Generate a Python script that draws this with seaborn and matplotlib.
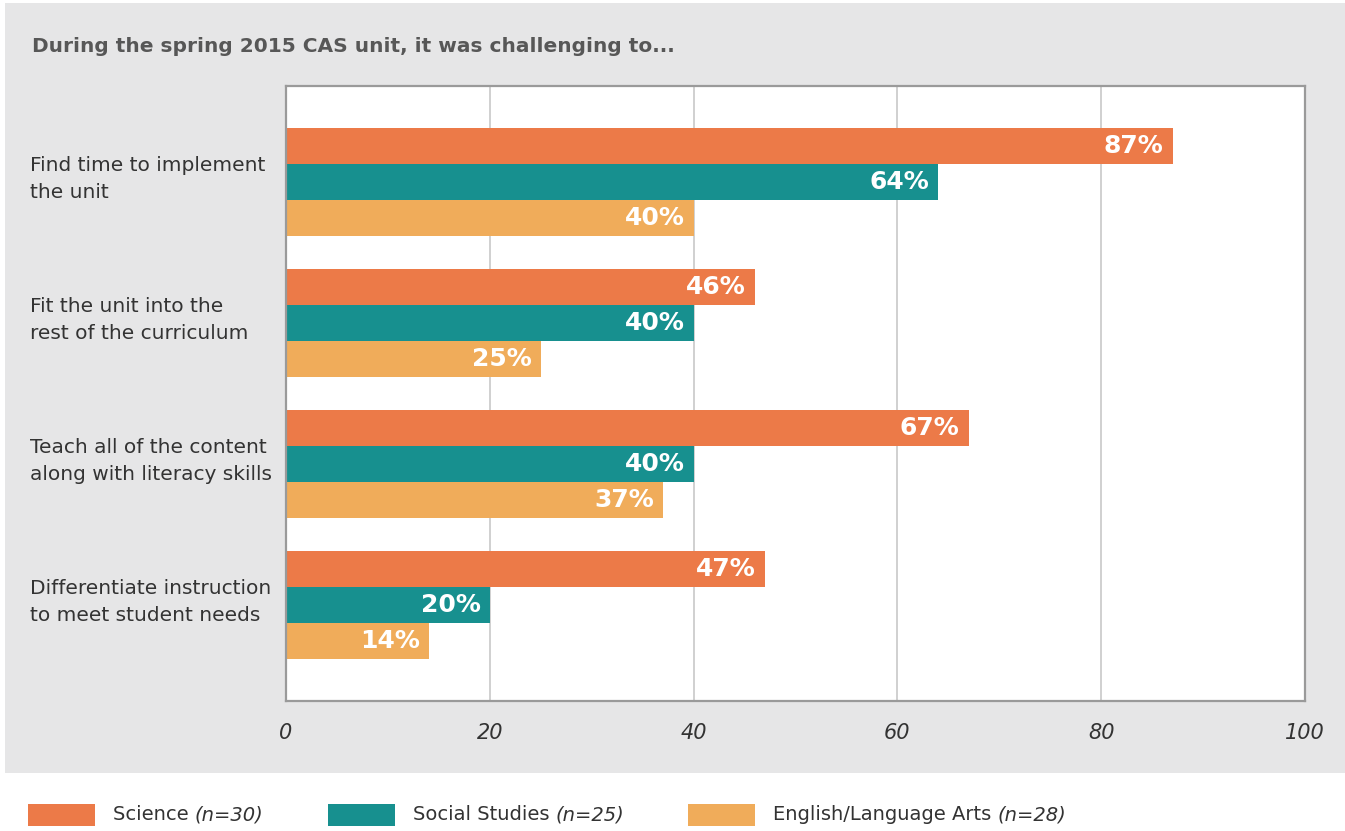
import pandas as pd
import numpy as np
import matplotlib.pyplot as plt
import seaborn as sns
from matplotlib.patches import Rectangle
from matplotlib.transforms import blended_transform_factory

tasks = [
    "Find time to implement\nthe unit",
    "Fit the unit into the\nrest of the curriculum",
    "Teach all of the content\nalong with literacy skills",
    "Differentiate instruction\nto meet student needs",
]
subjects = ["Science", "Social Studies", "English/Language Arts"]
n_sizes = [30, 25, 28]
science = [87, 46, 67, 47]
social_studies = [64, 40, 40, 20]
ela = [40, 25, 37, 14]
x_ticks = [0, 20, 40, 60, 80, 100]

colors = ["#EC7A48", "#17908F", "#F0AC5A"]
panel_grey = "#E6E6E7"

df = pd.DataFrame({
    "task": tasks * 3,
    "subject": [s for s in subjects for _ in tasks],
    "pct": science + social_studies + ela,
})

sns.set_style("white")
plt.rcParams["font.family"] = ["DejaVu Sans"]

fig = plt.figure(figsize=(13.45, 8.31), dpi=100)
fig.patch.set_facecolor("white")
fig.patches.append(Rectangle((5 / 1345, 1 - 773 / 831), 1, 773 / 831 - 3 / 831,
                             transform=fig.transFigure, facecolor=panel_grey,
                             edgecolor="none", zorder=-10))

ax = fig.add_axes([286 / 1345, 1 - 701 / 831, (1305 - 286) / 1345, (701 - 86) / 831])
ax.set_facecolor("white")

sns.barplot(data=df, y="task", x="pct", hue="subject", orient="h",
            palette=colors, hue_order=subjects, order=tasks,
            width=0.765, gap=0, saturation=1, legend=False, ax=ax,
            errorbar=None, linewidth=0, edgecolor="none")

ax.set_xlim(0, 100)
ax.set_ylim(3.68, -0.68)
ax.set_xticks(x_ticks)
ax.set_xticklabels([str(t) for t in x_ticks], fontsize=15, style="italic", color="#333333")
ax.tick_params(axis="x", length=0, pad=16)
ax.set_yticks([])
ax.set_xlabel("")
ax.set_ylabel("")
for x in x_ticks[1:-1]:
    ax.axvline(x, color="#C8C8C8", lw=1.2, zorder=0)
for sp in ax.spines.values():
    sp.set_color("#9A9A9A")
    sp.set_linewidth(1.6)

# value labels inside bar ends
for cont in ax.containers:
    for bar in cont:
        w = bar.get_width()
        ax.annotate(f"{w:.0f}%", (w, bar.get_y() + bar.get_height() / 2),
                    xytext=(-9, 0), textcoords="offset pixels",
                    ha="right", va="center", color="white",
                    fontsize=18, fontweight="bold")

# category labels on the left
trans = blended_transform_factory(fig.transFigure, ax.transData)
for i, t in enumerate(tasks):
    ax.text(30 / 1345, i - 0.02, t, transform=trans, ha="left", va="center",
            fontsize=14.5, color="#333333", linespacing=1.55)

fig.text(32 / 1345, 1 - 46 / 831,
         "During the spring 2015 CAS unit, it was challenging to...",
         ha="left", va="center", fontsize=14.5, fontweight="bold", color="#575757")

# legend below the grey panel, with the sample sizes in italics
fig.canvas.draw()
renderer = fig.canvas.get_renderer()
x0 = 28
y_leg = 1 - 815 / 831
for s, n, c in zip(subjects, n_sizes, colors):
    fig.patches.append(Rectangle((x0 / 1345, 1 - 826 / 831), 67 / 1345, 22 / 831,
                                 transform=fig.transFigure, facecolor=c,
                                 edgecolor="none"))
    x0 += 67 + 18
    t1 = fig.text(x0 / 1345, y_leg, s + " ", ha="left", va="center",
                  fontsize=14, color="#333333")
    x0 += t1.get_window_extent(renderer).width
    t2 = fig.text(x0 / 1345, y_leg, f"(n={n})", ha="left", va="center",
                  fontsize=14, color="#333333", style="italic")
    x0 += t2.get_window_extent(renderer).width + 64

fig.savefig("out.png", dpi=100)
